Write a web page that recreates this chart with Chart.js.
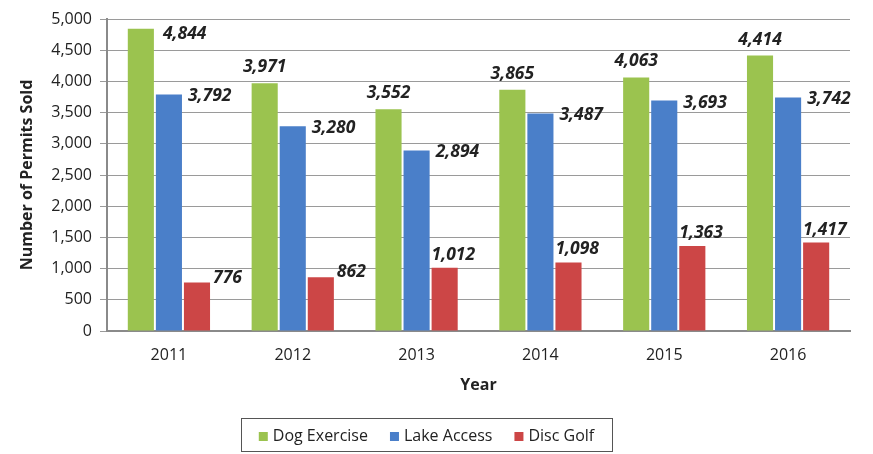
<!DOCTYPE html>
<html>
<head>
<meta charset="utf-8">
<script src="https://cdn.jsdelivr.net/npm/chart.js@4/dist/chart.umd.min.js"></script>
<style>
  html, body { margin: 0; padding: 0; background: #fff; }
  #wrap { width: 873px; height: 454px; }
</style>
</head>
<body>
<div id="wrap"><canvas id="permits" width="873" height="454"></canvas></div>
<script>
// data
var years = ["2011", "2012", "2013", "2014", "2015", "2016"];
var dogExercise = [4844, 3971, 3552, 3865, 4063, 4414];
var lakeAccess = [3792, 3280, 2894, 3487, 3693, 3742];
var discGolf = [776, 862, 1012, 1098, 1363, 1417];
var yTicks = [0, 500, 1000, 1500, 2000, 2500, 3000, 3500, 4000, 4500, 5000];

var fontFamily = "'Open Sans', 'Noto Sans', sans-serif";

// value labels, roughly where the original has them
var valueLabels = {
    id: 'valueLabels',
    afterDatasetsDraw: function(chart) {
        var c = chart.ctx;
        c.save();
        c.font = 'italic bold 17.5px ' + fontFamily;
        c.fillStyle = '#222';
        c.textBaseline = 'middle';
        chart.data.datasets.forEach(function(ds, i) {
            chart.getDatasetMeta(i).data.forEach(function(bar, j) {
                var v = ds.data[j];
                var txt = v.toLocaleString('en-US');
                var right = bar.x + bar.width / 2;
                var left = bar.x - bar.width / 2;
                if (i == 0) {
                    if (v > 4600) {
                        c.textAlign = 'left';
                        c.fillText(txt, right + 9, bar.y + 5);
                    } else {
                        c.textAlign = 'center';
                        c.fillText(txt, bar.x, bar.y - 16);
                    }
                } else if (i == 1) {
                    c.textAlign = 'left';
                    c.fillText(txt, right + 6, bar.y + 2);
                } else {
                    if (v < 1000) {
                        c.textAlign = 'left';
                        c.fillText(txt, right + 3, bar.y - 5);
                    } else {
                        c.textAlign = 'left';
                        c.fillText(txt, left, bar.y - 13);
                    }
                }
            });
        });
        c.restore();
    }
};

// legend in a box under the chart, drawn by hand to get the spacing
var boxedLegend = {
    id: 'boxedLegend',
    afterDraw: function(chart) {
        var c = chart.ctx;
        var bx = 241, by = 418, bw = 371, bh = 33;
        c.save();
        c.strokeStyle = '#555';
        c.lineWidth = 1;
        c.strokeRect(bx + 0.5, by + 0.5, bw, bh);
        c.font = '16px ' + fontFamily;
        c.textBaseline = 'middle';
        c.textAlign = 'left';
        var items = chart.data.datasets;
        var widths = items.map(function(ds) { return 9 + 5 + c.measureText(ds.label).width; });
        var total = widths.reduce(function(a, b) { return a + b; }, 0) + 22 * (items.length - 1);
        var x = bx + (bw - total) / 2;
        var cy = by + bh / 2 + 1.5;
        items.forEach(function(ds, i) {
            c.fillStyle = ds.backgroundColor;
            c.fillRect(x, cy - 4, 9, 9);
            c.fillStyle = '#222';
            c.fillText(ds.label, x + 14, cy);
            x += widths[i] + 22;
        });
        c.restore();
    }
};

var ctx = document.getElementById('permits');
var myChart = new Chart(ctx, {
    type: 'bar',
    data: {
        labels: years,
        datasets: [
            {
                label: "Dog Exercise",
                backgroundColor: "#9bc34f",
                data: dogExercise
            },
            {
                label: "Lake Access",
                backgroundColor: "#4a7fc9",
                data: lakeAccess
            },
            {
                label: "Disc Golf",
                backgroundColor: "#cc4646",
                data: discGolf
            }
        ]
    },
    options: {
        responsive: false,
        animation: false,
        layout: { padding: { left: 18, right: 23, top: 19, bottom: 35 } },
        datasets: {
            bar: { categoryPercentage: 0.68, barPercentage: 0.93 }
        },
        plugins: {
            tooltip: { enabled: false },
            legend: { display: false }
        },
        scales: {
            x: {
                grid: { display: false },
                border: { color: '#8a8a8a', width: 2 },
                ticks: {
                    color: '#222',
                    padding: 7,
                    font: { family: fontFamily, size: 16 }
                },
                title: {
                    display: true,
                    text: 'Year',
                    color: '#222',
                    padding: { top: 6, bottom: 24 },
                    font: { family: fontFamily, size: 16, weight: 'bold' }
                },
                afterFit: function(scale) { scale.height = 88; }
            },
            y: {
                min: 0,
                max: 5000,
                afterBuildTicks: function(scale) {
                    scale.ticks = yTicks.map(function(v) { return { value: v }; });
                },
                grid: { color: '#9a9a9a', tickLength: 7 },
                border: { color: '#8a8a8a', width: 2 },
                ticks: {
                    color: '#222',
                    padding: 8,
                    font: { family: fontFamily, size: 16 },
                    callback: function(v) { return v.toLocaleString('en-US'); }
                },
                title: {
                    display: true,
                    text: 'Number of Permits Sold',
                    color: '#222',
                    padding: { top: 0, bottom: 0 },
                    font: { family: fontFamily, size: 16, weight: 'bold' }
                },
                afterFit: function(scale) { scale.width = 89; }
            }
        }
    },
    plugins: [valueLabels, boxedLegend]
});
</script>
</body>
</html>
